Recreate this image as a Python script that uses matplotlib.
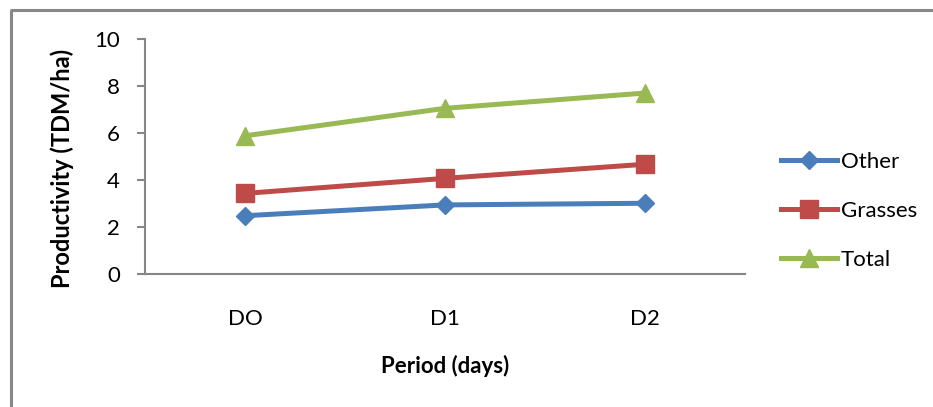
import matplotlib
matplotlib.use("Agg")
import matplotlib.pyplot as plt
from matplotlib.lines import Line2D

plt.rcParams['font.family'] = ['Lato', 'DejaVu Sans']

categories = ["DO", "D1", "D2"]
other = [2.48, 2.94, 3.01]
grasses = [3.43, 4.07, 4.67]
total = [5.88, 7.05, 7.70]
yticks = [0, 2, 4, 6, 8, 10]

W, H = 933, 407
fig = plt.figure(figsize=(W / 100, H / 100), dpi=100)
ax = fig.add_axes([145 / W, 1 - 274 / H, (745 - 145) / W, (274 - 39) / H])

x = list(range(len(categories)))
ax.plot(x, other, color='#4A7EBB', lw=3.6, marker='D', ms=9, label='Other')
ax.plot(x, grasses, color='#BE4B48', lw=3.6, marker='s', ms=13, label='Grasses')
ax.plot(x, total, color='#98B954', lw=3.6, marker='^', ms=13, label='Total')

ax.set_xlim(-0.5, 2.5)
ax.set_ylim(0, 10)
ax.set_yticks(yticks)
ax.set_yticklabels([str(v) for v in yticks])
ax.set_xticks(x)
ax.set_xticklabels(categories)

for s in ['top', 'right']:
    ax.spines[s].set_visible(False)
for s in ['left', 'bottom']:
    ax.spines[s].set_color('#868686')
    ax.spines[s].set_linewidth(1.5)
ax.tick_params(axis='y', length=6, width=1.5, color='#868686', labelsize=16, pad=12)
ax.tick_params(axis='x', length=0, labelsize=16, pad=25)

ax.set_ylabel('Productivity (TDM/ha)', fontsize=17, fontweight='bold')
ax.yaxis.set_label_coords((74 - 145) / 600, (274 - 168) / 235)
ax.set_xlabel('Period (days)', fontsize=16, fontweight='bold', labelpad=19)

fig.legend(loc='center left', bbox_to_anchor=(781 / W, 1 - 211 / H), frameon=False,
           fontsize=16, handlelength=2.5, handletextpad=0.2, labelspacing=1.3,
           borderpad=0, borderaxespad=0)

# outer frame (left and top only visible)
fig.add_artist(Line2D([10.5 / W, 10.5 / W], [0, 1 - 10 / H], transform=fig.transFigure,
                      color='#888888', lw=2.2, solid_capstyle='butt'))
fig.add_artist(Line2D([9.5 / W, 1], [1 - 10 / H, 1 - 10 / H], transform=fig.transFigure,
                      color='#888888', lw=2.2, solid_capstyle='butt'))

fig.savefig('out.png', dpi=100)
